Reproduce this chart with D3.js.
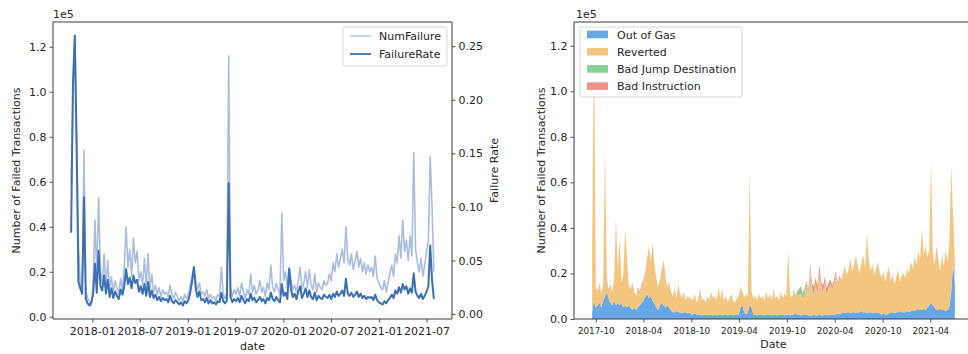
<!DOCTYPE html>
<html>
<head>
<meta charset="utf-8">
<script src="https://cdn.jsdelivr.net/npm/d3@7"></script>
<style>
  html, body { margin: 0; padding: 0; background: #fff; }
  svg { display: block; font-family: "DejaVu Sans", sans-serif; }
</style>
</head>
<body>
<svg id="fig" width="968" height="354"></svg>
<script>
// Weekly samples of failed transactions on the chain.
const leftStart = "2017-10-12";
const rightStart = "2017-09-17";
const stepDays = 7;

// Number of failed transactions (thousands)
const numFailureK = [
  60, 96, 125, 80, 32,
  14, 10, 74, 12, 8, 7, 5,
  15, 43, 18, 53, 20,
  15, 28, 13, 25,
  12, 18, 11, 16,
  13, 10, 17, 12, 22,
  40, 22, 30, 18, 35,
  24, 29, 16, 20,
  14, 26, 13, 28,
  12, 19, 11, 14, 10,
  13, 9, 12, 10,
  11, 9, 14, 10,
  8, 11, 9, 7,
  9, 7, 10, 8,
  10, 14, 18, 21,
  16, 12, 15, 10,
  11, 9, 12, 8, 10,
  8, 9, 7, 10,
  9, 22, 10, 8, 11, 116, 13, 9, 12,
  10, 13, 9, 15, 11, 8, 12, 10, 19, 11,
  14, 10, 12, 16, 11, 13, 9, 15, 12, 23,
  13, 11, 15, 12, 10, 46, 16, 20, 13, 22,
  17, 12, 14, 11, 16, 22, 12, 15, 20, 13,
  21, 14, 12, 19, 11, 15, 13, 12, 16, 14,
  15, 19, 16, 24, 20, 28, 22, 26, 30, 24,
  40, 26, 23, 28, 21, 25, 29, 22, 26, 20,
  24, 19, 23, 20, 22, 18, 27, 17, 15, 13,
  12, 16, 11, 15, 19, 23, 18, 28, 24, 36,
  26, 43, 29, 34, 25, 36, 27, 73, 30, 24,
  20, 26, 18, 23, 29, 34, 71, 49, 20
];

// Share of transactions that failed (percent)
const failureRatePct = [
  7.6, 21.6, 26.0, 15.5, 3.0,
  2.4, 1.9, 10.9, 1.4, 1.0, 0.8, 1.1,
  1.8, 4.7, 2.0, 5.9, 2.6,
  2.2, 3.6, 1.9, 3.2,
  1.6, 2.4, 1.5, 2.1,
  1.7, 1.4, 2.3, 1.8, 2.6,
  4.2, 2.8, 3.4, 2.4, 3.6,
  2.9, 3.2, 2.1, 2.6,
  1.9, 2.8, 1.7, 3.0,
  1.6, 2.2, 1.5, 1.8, 1.3,
  1.6, 1.2, 1.5, 1.3,
  1.4, 1.1, 1.7, 1.2,
  1.0, 1.3, 1.1, 0.9,
  1.1, 0.8, 1.2, 1.0,
  1.3, 2.0, 3.0, 4.4,
  2.4, 1.6, 2.1, 1.3,
  1.4, 1.1, 1.5, 1.0, 1.3,
  1.0, 1.1, 0.9, 1.2,
  1.1, 2.0, 1.2, 1.0, 1.3, 12.2, 1.6, 1.1, 1.4,
  1.2, 1.5, 1.1, 1.7, 1.3, 1.0, 1.4, 1.2, 1.9, 1.3,
  1.5, 1.1, 1.3, 1.6, 1.2, 1.4, 1.0, 1.5, 1.3, 2.0,
  1.4, 1.2, 1.6, 1.3, 1.1, 2.8, 1.7, 2.0, 1.4, 4.2,
  2.3, 1.6, 1.9, 1.4, 2.1, 2.6, 1.5, 1.9, 2.4, 1.6,
  2.2, 1.6, 1.4, 2.0, 1.3, 1.7, 1.5, 1.4, 1.8, 1.6,
  1.5, 1.8, 1.4, 1.9, 1.6, 2.1, 1.7, 1.9, 2.2, 1.7,
  3.3, 1.9, 1.7, 2.0, 1.6, 1.8, 2.1, 1.6, 1.9, 1.5,
  1.7, 1.4, 1.6, 1.5, 1.6, 1.3, 1.8, 1.3, 1.1, 1.0,
  0.9, 1.2, 1.0, 1.3, 1.5, 1.8, 1.5, 2.2, 1.9, 2.5,
  2.0, 2.8, 2.3, 2.6, 1.9, 2.4, 2.0, 3.8, 2.1, 1.7,
  1.5, 1.9, 1.4, 1.7, 2.1, 2.6, 6.4, 3.2, 1.4
];

// Failed transactions by error type (thousands)
const outOfGasK = [
  3, 8, 5, 6, 7, 5, 8, 10, 12, 9, 7, 6, 8, 6, 7,
  6, 7, 5, 6, 5, 6, 5, 4, 5, 4, 5, 6, 7,
  8, 10, 11, 9, 10, 8, 7, 5, 4, 6, 7, 6, 5,
  6, 5, 4, 3, 3, 3.5, 3, 3, 2.5, 3, 3, 2.5, 3,
  2, 2, 2.5, 2, 2, 2, 1.5, 2, 2, 1.5, 2, 2, 1.5,
  2, 1.5, 2, 2, 1.5, 2, 2, 1.5, 2, 2, 1.5, 2, 2,
  2, 5, 6, 3, 2, 3, 6, 5, 2, 2, 1.5, 2, 2,
  2, 1.5, 2, 2, 2, 1.5, 2, 2, 1.5, 2, 2, 2, 1.5,
  2, 2, 1.5, 2, 2, 2.5, 2, 2, 1.5, 2, 2, 2, 1.5,
  1.5, 1.5, 2, 1.5, 1.5, 2, 1.5, 1.5, 2, 2, 1.5, 2, 2,
  2, 2, 2.5, 2, 2.5, 3, 2.5, 3, 3, 2.5, 3, 3, 2.5,
  3, 3, 3.5, 3, 3, 2.5, 3, 3, 2.5, 3, 2.5, 3, 2.5,
  2, 2.5, 2, 2, 2.5, 3, 3, 2.5, 3, 3, 3.5, 3, 3,
  3, 3.5, 3, 3.5, 4, 3.5, 4, 4.5, 4, 4, 4.5, 4, 5,
  6, 7, 6, 5, 4, 4, 4.5, 4, 4, 3.5, 4, 5, 12, 24.5, 15
];
const revertedK = [
  27, 116, 9, 6, 9, 6, 7, 65, 6, 4, 8, 6, 9, 38, 15,
  29, 9, 14, 33, 22, 9, 8, 12, 7, 6, 8, 5, 7,
  8, 10, 15, 23, 15, 25, 17, 13, 10, 11, 15, 20, 14,
  8, 11, 8, 7, 10, 5.5, 12, 8, 6.5, 9, 5, 7.5, 6,
  7, 6, 8.5, 5, 7, 11, 6.5, 7, 5, 8.5, 6, 10, 7.5,
  8, 6.5, 12, 7, 11.5, 6, 8, 5.5, 7, 9, 6.5, 5, 7,
  8, 9, 6, 6, 9, 7, 59, 7, 7, 8, 6.5, 9, 7,
  8, 6.5, 10, 7, 9, 6.5, 11, 7, 8.5, 6, 10, 7, 9.5,
  8, 28, 9.5, 7, 11, 7.5, 8.5, 8.5, 9.5, 7, 8.5, 12.5, 8.5,
  20, 11, 8, 13.5, 9, 18.5, 13, 9.5, 14, 8.5, 12, 13, 11,
  13, 17.5, 12.5, 16, 14, 17, 20.5, 16, 19, 23.5, 18, 21, 25.5,
  20, 17, 21.5, 25, 19, 35.5, 23, 18, 21.5, 16, 19.5, 22, 17.5,
  16, 18.5, 14, 18, 20.5, 14, 16, 12.5, 15, 19, 12.5, 16, 17,
  15, 18.5, 17, 21.5, 18, 23.5, 20, 25.5, 22, 36, 23.5, 28, 22,
  24, 63, 22, 19, 28, 22, 16.5, 24, 19, 26.5, 21, 28, 56, 20.5, 11
];
const badJumpK = [
  0.05, 0.08, 0.05, 0.06, 0.05, 0.05, 0.06, 0.1, 0.06, 0.05, 0.05, 0.06, 0.05, 0.06, 0.05,
  0.05, 0.06, 0.05, 0.05, 0.06, 0.05, 0.05, 0.06, 0.05, 0.05, 0.06, 0.05, 0.05,
  0.06, 0.05, 0.05, 0.06, 0.05, 0.06, 0.05, 0.05, 0.06, 0.05, 0.05, 0.06, 0.05,
  0.05, 0.05, 0.06, 0.05, 0.05, 0.05, 0.06, 0.05, 0.05, 0.05, 0.06, 0.05, 0.05,
  0.05, 0.06, 0.05, 0.05, 0.05, 0.06, 0.05, 0.05, 0.06, 0.05, 0.05, 0.05, 0.06,
  0.05, 0.05, 0.06, 0.05, 0.05, 0.05, 0.06, 0.05, 0.05, 0.06, 0.05, 0.05, 0.05,
  0.06, 0.05, 0.05, 0.06, 0.05, 0.05, 0.1, 0.05, 0.05, 0.06, 0.05, 0.05, 0.06,
  0.05, 0.06, 0.05, 0.05, 0.06, 0.05, 0.06, 0.05, 0.06, 0.08, 0.06, 0.06, 0.08,
  0.06, 0.1, 0.06, 0.08, 0.1, 0.2, 1.5, 2.5, 3, 2, 2.5, 1.5, 2,
  1, 1, 0.5, 0.5, 0.2, 0.1, 0.1, 0.1, 0.1, 0.08, 0.1, 0.08, 0.08,
  0.08, 0.06, 0.06, 0.08, 0.06, 0.06, 0.06, 0.08, 0.06, 0.06, 0.06, 0.06, 0.06,
  0.06, 0.06, 0.06, 0.08, 0.06, 0.06, 0.06, 0.06, 0.06, 0.06, 0.06, 0.06, 0.06,
  0.06, 0.06, 0.05, 0.06, 0.06, 0.06, 0.05, 0.06, 0.06, 0.06, 0.05, 0.06, 0.06,
  0.06, 0.06, 0.06, 0.06, 0.05, 0.06, 0.06, 0.06, 0.06, 0.06, 0.06, 0.06, 0.06,
  0.06, 0.08, 0.06, 0.06, 0.06, 0.06, 0.06, 0.06, 0.06, 0.06, 0.06, 0.06, 0.1, 0.08, 0.06
];
const badInstructionK = [
  0.06, 0.15, 0.05, 0.06, 0.05, 0.06, 0.05, 0.1, 0.06, 0.05, 0.06, 0.05, 0.06, 0.08, 0.06,
  0.06, 0.06, 0.06, 0.08, 0.06, 0.06, 0.06, 0.08, 0.06, 0.06, 0.8, 1, 1.2,
  1, 0.8, 0.5, 0.1, 0.06, 0.08, 0.06, 0.06, 0.06, 0.06, 0.06, 0.06, 0.06,
  0.06, 0.05, 0.06, 0.05, 0.06, 0.05, 0.05, 0.06, 0.05, 0.05, 0.05, 0.06, 0.05,
  0.05, 0.05, 0.05, 0.06, 0.05, 0.05, 0.05, 0.05, 0.05, 0.06, 0.05, 0.05, 0.05,
  0.05, 0.05, 0.06, 0.05, 0.05, 0.05, 0.05, 0.05, 0.05, 0.05, 0.06, 0.05, 0.05,
  0.05, 0.06, 0.05, 0.05, 0.05, 0.05, 0.1, 0.05, 0.05, 0.05, 0.05, 0.05, 0.05,
  0.05, 0.05, 0.05, 0.06, 0.05, 0.05, 0.06, 0.05, 0.05, 0.06, 0.06, 0.06, 0.08,
  0.08, 0.1, 0.08, 0.1, 0.1, 0.1, 0.3, 0.4, 0.4, 0.5, 0.6, 0.8, 1,
  1.5, 2.5, 3.5, 2.5, 4, 3, 2, 3.5, 2.5, 3, 2, 2.5, 1.5,
  2, 1.5, 1, 1, 0.5, 0.2, 0.1, 0.08, 0.08, 0.06, 0.06, 0.06, 0.06,
  0.06, 0.06, 0.06, 0.06, 0.06, 0.06, 0.06, 0.06, 0.06, 0.06, 0.06, 0.06, 0.06,
  0.06, 0.05, 0.06, 0.06, 0.06, 0.05, 0.06, 0.06, 0.06, 0.06, 0.05, 0.06, 0.06,
  0.06, 0.06, 0.06, 0.06, 0.06, 0.06, 0.06, 0.06, 0.06, 0.08, 0.06, 0.06, 0.06,
  0.06, 0.1, 0.06, 0.06, 0.06, 0.06, 0.06, 0.06, 0.06, 0.06, 0.06, 0.06, 0.1, 0.08, 0.06
];

const failureTypes = ["Out of Gas", "Reverted", "Bad Jump Destination", "Bad Instruction"];
const typeColors = ["#68a7e5", "#f3c57e", "#89d18f", "#ea9487"];

const leftTickLabels = ["2018-01", "2018-07", "2019-01", "2019-07", "2020-01", "2020-07", "2021-01", "2021-07"];
const rightTickLabels = ["2017-10", "2018-04", "2018-10", "2019-04", "2019-10", "2020-04", "2020-10", "2021-04"];
const countTicksK = [0, 20, 40, 60, 80, 100, 120];   // shown in units of 1e5
const rateTicksPct = [0, 5, 10, 15, 20, 25];          // shown as fractions

// ---------------------------------------------------------------------------
const svg = d3.select("#fig");
const ink = "#262626";
const spineColor = "#3c3c3c";
const L = { x0: 53, x1: 452, y0: 22, y1: 319 };
const R = { x0: 574, x1: 973, y0: 22, y1: 319 };

const parseDay = d3.utcParse("%Y-%m-%d");
const parseMonth = d3.utcParse("%Y-%m");
const fmtMonth = d3.utcFormat("%Y-%m");

function datesFrom(start, n) {
  const s = parseDay(start);
  return d3.range(n).map(i => d3.utcDay.offset(s, i * stepDays));
}
function padded(ext) {
  const a = +ext[0], b = +ext[1], r = b - a;
  return [a - 0.05 * r, b + 0.05 * r];
}
function styleAxis(g, size) {
  g.select(".domain").remove();
  g.selectAll(".tick line").attr("stroke", spineColor).attr("stroke-width", 0.9);
  g.selectAll(".tick text").attr("fill", ink).attr("font-size", size)
    .attr("font-family", "DejaVu Sans, sans-serif");
}
function spines(box, sides) {
  const s = svg.append("g").attr("stroke", spineColor).attr("stroke-width", 1).attr("fill", "none");
  if (sides.includes("l")) s.append("line").attr("x1", box.x0).attr("x2", box.x0).attr("y1", box.y0).attr("y2", box.y1);
  if (sides.includes("r")) s.append("line").attr("x1", box.x1).attr("x2", box.x1).attr("y1", box.y0).attr("y2", box.y1);
  if (sides.includes("t")) s.append("line").attr("x1", box.x0).attr("x2", box.x1).attr("y1", box.y0).attr("y2", box.y0);
  if (sides.includes("b")) s.append("line").attr("x1", box.x0).attr("x2", box.x1).attr("y1", box.y1).attr("y2", box.y1);
}
function label(text, x, y, size, rotate, anchor) {
  const t = svg.append("text").text(text).attr("fill", ink).attr("font-size", size)
    .attr("text-anchor", anchor || "middle");
  if (rotate) t.attr("transform", `translate(${x},${y}) rotate(${rotate})`);
  else t.attr("x", x).attr("y", y);
  return t;
}

// ---------------- left panel: count and rate over time ----------------
const leftDates = datesFrom(leftStart, numFailureK.length);
const xL = d3.scaleUtc().domain(padded(d3.extent(leftDates)).map(v => new Date(v))).range([L.x0, L.x1]);
const yCount = d3.scaleLinear().domain(padded(d3.extent(numFailureK))).range([L.y1, L.y0]);
const yRate = d3.scaleLinear().domain(padded(d3.extent(failureRatePct))).range([L.y1, L.y0]);

const defs = svg.append("defs");
defs.append("clipPath").attr("id", "clipL")
  .append("rect").attr("x", L.x0).attr("y", L.y0).attr("width", L.x1 - L.x0).attr("height", L.y1 - L.y0);

const numColor = "#aabdde";
const rateColor = "#3b70b3";

svg.append("path")
  .datum(numFailureK)
  .attr("clip-path", "url(#clipL)")
  .attr("fill", "none").attr("stroke", numColor).attr("stroke-width", 1.6)
  .attr("stroke-linejoin", "round")
  .attr("d", d3.line().x((d, i) => xL(leftDates[i])).y(d => yCount(d)));

svg.append("path")
  .datum(failureRatePct)
  .attr("clip-path", "url(#clipL)")
  .attr("fill", "none").attr("stroke", rateColor).attr("stroke-width", 2)
  .attr("stroke-linejoin", "round")
  .attr("d", d3.line().x((d, i) => xL(leftDates[i])).y(d => yRate(d)));

svg.append("g").attr("transform", `translate(0,${L.y1})`)
  .call(d3.axisBottom(xL).tickValues(leftTickLabels.map(parseMonth)).tickFormat(fmtMonth)
    .tickSize(3.5).tickPadding(5))
  .call(g => styleAxis(g, 11));
svg.append("g").attr("transform", `translate(${L.x0},0)`)
  .call(d3.axisLeft(yCount).tickValues(countTicksK).tickFormat(v => (v / 100).toFixed(1))
    .tickSize(3.5).tickPadding(3))
  .call(g => styleAxis(g, 11));
svg.append("g").attr("transform", `translate(${L.x1},0)`)
  .call(d3.axisRight(yRate).tickValues(rateTicksPct).tickFormat(v => (v / 100).toFixed(2))
    .tickSize(3.5).tickPadding(3))
  .call(g => styleAxis(g, 11));

spines(L, "lrtb");

label("1e5", L.x0, 18, 11, 0, "start");
label("Number of Failed Transactions", 20, (L.y0 + L.y1) / 2, 11, -90);
label("Failure Rate", 498, (L.y0 + L.y1) / 2, 11, -90);
label("date", (L.x0 + L.x1) / 2, 350, 11);

// legend
const legL = svg.append("g");
legL.append("rect").attr("x", 343).attr("y", 27).attr("width", 104).attr("height", 39)
  .attr("rx", 2).attr("fill", "#fff").attr("fill-opacity", 0.85)
  .attr("stroke", "#d6d6d6").attr("stroke-width", 1);
[["NumFailure", numColor, 1.3], ["FailureRate", rateColor, 1.8]].forEach((e, k) => {
  const cy = 36 + k * 18;
  legL.append("line").attr("x1", 350).attr("x2", 371).attr("y1", cy).attr("y2", cy)
    .attr("stroke", e[1]).attr("stroke-width", e[2]);
  legL.append("text").attr("x", 379).attr("y", cy + 4).attr("font-size", 11).attr("fill", ink).text(e[0]);
});

// ---------------- right panel: failures by error type ----------------
const rightDates = datesFrom(rightStart, revertedK.length);
const typeSeries = [outOfGasK, revertedK, badJumpK, badInstructionK];
const rows = rightDates.map((d, i) => {
  const r = { date: d };
  failureTypes.forEach((k, j) => { r[k] = typeSeries[j][i]; });
  return r;
});
const stacked = d3.stack().keys(failureTypes)(rows);
const maxTotal = d3.max(stacked[stacked.length - 1], d => d[1]);

const xR = d3.scaleUtc().domain(padded(d3.extent(rightDates)).map(v => new Date(v))).range([R.x0, R.x1]);
const yR = d3.scaleLinear().domain([0, maxTotal * 1.05]).range([R.y1, R.y0]);

defs.append("clipPath").attr("id", "clipR")
  .append("rect").attr("x", R.x0).attr("y", R.y0).attr("width", R.x1 - R.x0).attr("height", R.y1 - R.y0);

const area = d3.area()
  .x(d => xR(d.data.date))
  .y0(d => yR(d[0]))
  .y1(d => yR(d[1]));

svg.append("g").attr("clip-path", "url(#clipR)")
  .selectAll("path").data(stacked).join("path")
  .attr("fill", (d, j) => typeColors[j])
  .attr("d", area);

svg.append("g").attr("transform", `translate(0,${R.y1})`)
  .call(d3.axisBottom(xR).tickValues(rightTickLabels.map(parseMonth)).tickFormat(fmtMonth)
    .tickSize(3.5).tickPadding(5))
  .call(g => styleAxis(g, 8.8));
svg.append("g").attr("transform", `translate(${R.x0},0)`)
  .call(d3.axisLeft(yR).tickValues(countTicksK).tickFormat(v => (v / 100).toFixed(1))
    .tickSize(3.5).tickPadding(3))
  .call(g => styleAxis(g, 11));

spines(R, "lrtb");

label("1e5", R.x0 + 2, 18, 11, 0, "start");
label("Number of Failed Transactions", 545, (R.y0 + R.y1) / 2, 11, -90);
label("Date", (R.x0 + R.x1) / 2, 348, 11);

const legR = svg.append("g");
legR.append("rect").attr("x", 580).attr("y", 27).attr("width", 162).attr("height", 70)
  .attr("rx", 2).attr("fill", "#fff").attr("fill-opacity", 0.85)
  .attr("stroke", "#d6d6d6").attr("stroke-width", 1);
failureTypes.forEach((k, j) => {
  const cy = 34.5 + j * 17.2;
  legR.append("rect").attr("x", 587).attr("y", cy - 3.8).attr("width", 21).attr("height", 7.6)
    .attr("fill", typeColors[j]);
  legR.append("text").attr("x", 617).attr("y", cy + 4).attr("font-size", 11).attr("fill", ink).text(k);
});
</script>
</body>
</html>
